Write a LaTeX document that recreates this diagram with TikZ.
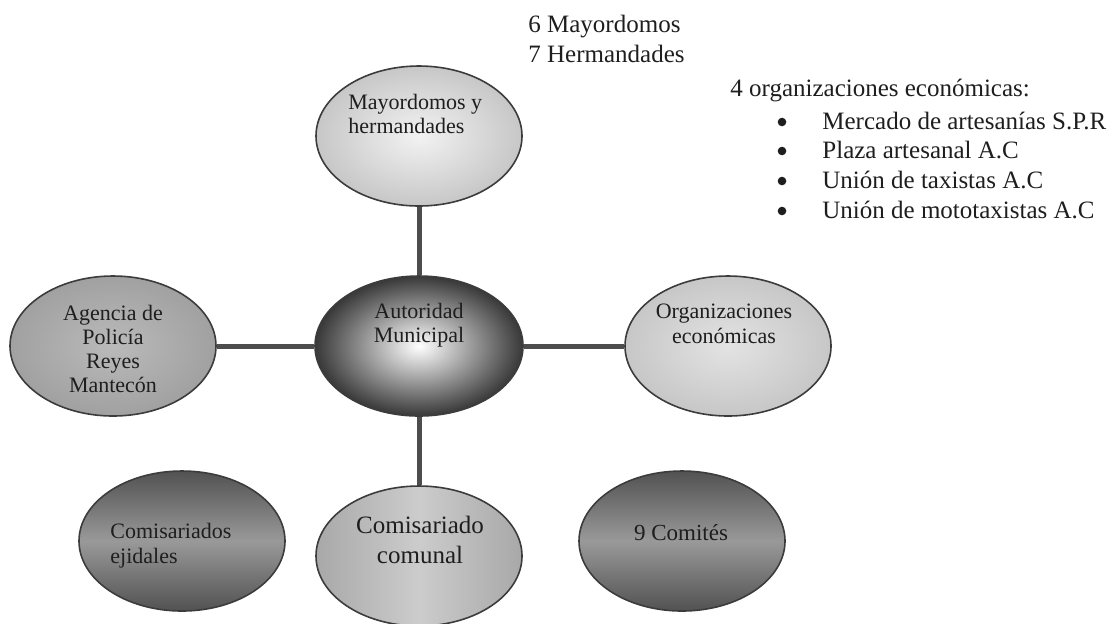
\documentclass[tikz,border=0pt]{standalone}
\usepackage{fontspec}
\setmainfont{Liberation Serif}
\usetikzlibrary{shapes.geometric}
\definecolor{cBorde}{HTML}{3C3C3C}
\definecolor{cLiga}{HTML}{4D4D4D}
\definecolor{cTexto}{HTML}{1E1E1E}

\begin{document}
\begin{tikzpicture}[x=0.5pt, y=-0.5pt,
  globo/.style={ellipse, draw=cBorde, line width=0.8pt, inner sep=0pt, minimum width=103pt, minimum height=70pt},
  texto/.style={inner sep=0pt, text=cTexto, font=\fontsize{11}{12.3}\selectfont, align=center},
  liga/.style={draw=cLiga, line width=2.5pt},
  nota/.style={inner sep=0pt, anchor=west, text=cTexto, font=\fontsize{12.5}{15}\selectfont, align=left},
  vineta/.style={circle, fill=cTexto, inner sep=0pt, minimum size=4.3pt}]
\useasboundingbox (0,0) rectangle (1111,623);
%
% globos
\node[globo, inner color=black!5, outer color=black!22] (may) at (419,136) {};
\node[globo, minimum width=104pt, inner color=white, outer color=black!78] (aut) at (419,346) {};
\node[globo, inner color=black!27, outer color=black!37] (age) at (113,346) {};
\node[globo, inner color=black!11, outer color=black!22] (org) at (728,346) {};
\node[globo, top color=black!68, bottom color=black!68, middle color=black!40] (eji) at (182,541) {};
\node[globo, left color=black!34, right color=black!34, middle color=black!20] (com) at (419,556) {};
\node[globo, top color=black!68, bottom color=black!68, middle color=black!40] (cmt) at (682,541) {};
%
% ligas
\draw[liga] (may) -- (aut);
\draw[liga] (age) -- (aut);
\draw[liga] (aut) -- (org);
\draw[liga] (aut) -- (com);
%
% textos de los globos
\node[texto, anchor=west, align=left] (mayT) at (348,114) {Mayordomos y\\hermandades};
\node[texto] (autT) at (419,325) {Autoridad\\Municipal};
\node[texto, font=\fontsize{11}{12}\selectfont] (ageT) at (113,349) {Agencia de\\Policía\\Reyes\\Mantecón};
\node[texto] (orgT) at (724,324) {Organizaciones\\económicas};
\node[texto, anchor=west, align=left, font=\fontsize{11}{12.5}\selectfont] (ejiT) at (110,546) {Comisariados\\ejidales};
\node[texto, font=\fontsize{12.5}{15}\selectfont] (comT) at (420,540) {Comisariado\\comunal};
\node[texto, font=\fontsize{11.5}{13}\selectfont] (cmtT) at (681,533) {9 Comités};
%
% notas
\node[nota] (herm) at (528,39) {6 Mayordomos\\7 Hermandades};
\node[nota] (orgs) at (730,90) {4 organizaciones económicas:};
\node[vineta] (b1) at (782,122) {};
\node[vineta] (b2) at (782,151) {};
\node[vineta] (b3) at (782,181) {};
\node[vineta] (b4) at (782,211) {};
\node[nota] (it1) at (822,121) {Mercado de artesanías S.P.R};
\node[nota] (it2) at (822,150) {Plaza artesanal A.C};
\node[nota] (it3) at (822,180) {Unión de taxistas A.C};
\node[nota] (it4) at (822,210) {Unión de mototaxistas A.C};
\end{tikzpicture}
\end{document}
